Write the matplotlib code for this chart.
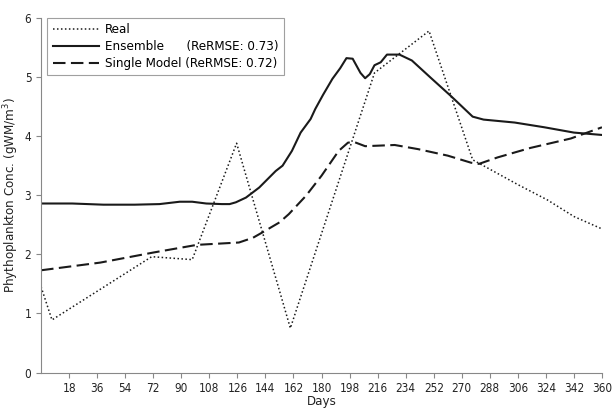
import numpy as np
import matplotlib
matplotlib.use("Agg")
import matplotlib.pyplot as plt

# Real (measured) values
real_days = [0, 7, 71, 97, 125.5, 160, 214, 249, 277, 306, 325, 342, 360]
real_vals = [1.45, 0.89, 1.96, 1.91, 3.88, 0.75, 5.07, 5.78, 3.6, 3.18, 2.92, 2.64, 2.43]

# Ensemble model
ens_days = [0, 20, 40, 60, 76, 89, 97, 106, 116, 121, 125, 131.5, 140, 150.6, 155, 161, 166.6,
            173, 176, 181, 187, 192, 196, 200, 205, 208, 211, 214, 218, 222, 230, 238,
            250, 263, 277, 284, 304, 323, 342, 360]
ens_vals = [2.86, 2.86, 2.84, 2.84, 2.85, 2.89, 2.89, 2.86, 2.85, 2.85, 2.88, 2.96, 3.13, 3.41, 3.5,
            3.75, 4.06, 4.29, 4.46, 4.7, 4.97, 5.15, 5.32, 5.31, 5.07, 4.98, 5.05, 5.2, 5.25,
            5.38, 5.38, 5.28, 4.99, 4.68, 4.33, 4.28, 4.23, 4.15, 4.06, 4.02]

# Single model
single_days = [0, 38, 72, 100, 127, 136, 142, 153, 159, 170, 180, 191, 197, 201, 208, 227,
               242, 261, 276, 281, 293, 314, 340, 360]
single_vals = [1.73, 1.86, 2.03, 2.16, 2.2, 2.28, 2.37, 2.54, 2.68, 2.99, 3.33, 3.75, 3.89,
               3.9, 3.83, 3.85, 3.78, 3.67, 3.55, 3.53, 3.64, 3.8, 3.96, 4.15]

xticks = list(range(18, 361, 18))
yticks = [0, 1, 2, 3, 4, 5, 6]

plt.rcParams['font.family'] = ['DejaVu Sans']
plt.rcParams['font.stretch'] = 'condensed'
fig = plt.figure(figsize=(6.13, 4.08), dpi=100)
ax = fig.add_axes([0.067, 0.087, 0.915, 0.869])

ln = "#1a1a1a"
ax.plot(real_days, real_vals, color=ln, lw=1.1, linestyle=(0, (1, 1.6)),
        label="Real")
ax.plot(ens_days, ens_vals, color=ln, lw=1.5, label="Ensemble      (ReRMSE: 0.73)")
ax.plot(single_days, single_vals, color=ln, lw=1.5, linestyle=(0, (6, 2.6)),
        label="Single Model (ReRMSE: 0.72)")

ax.set_xlim(0, 360)
ax.set_ylim(0, 6)
ax.set_xticks(xticks)
ax.set_yticks(yticks)
for s in ["top", "right"]:
    ax.spines[s].set_visible(False)
for s in ["left", "bottom"]:
    ax.spines[s].set_color("#888888")
    ax.spines[s].set_linewidth(0.8)
ax.tick_params(colors="#888888", labelcolor="#222222", labelsize=8.5, length=3.5, width=0.8)

ax.set_xlabel("Days", fontsize=9.5, color="#222222", labelpad=0)
ax.set_ylabel("Phythoplankton Conc. (gWM/m$^3$)", fontsize=9.5, color="#222222")
ax.yaxis.set_label_coords(-0.036, 0.5)

leg = ax.legend(loc="upper left", bbox_to_anchor=(0.011, 1.0), fontsize=9.5, frameon=True,
                fancybox=False, borderaxespad=0, handlelength=3.5, handletextpad=0.5,
                labelspacing=0.3, borderpad=0.4)
leg.get_frame().set_edgecolor("#888888")
leg.get_frame().set_linewidth(0.8)

fig.savefig("out.png", dpi=100)
